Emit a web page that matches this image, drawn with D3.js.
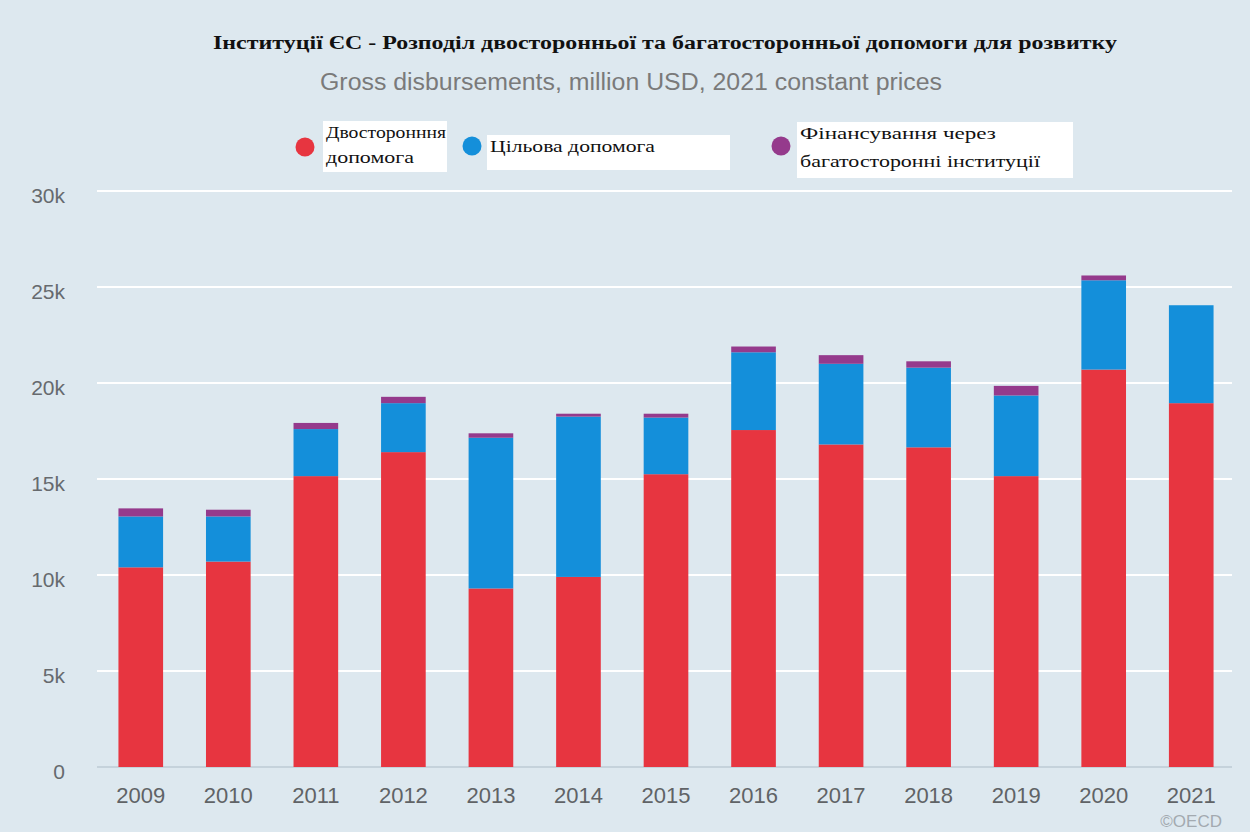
<!DOCTYPE html>
<html><head><meta charset="utf-8">
<script src="https://cdn.jsdelivr.net/npm/d3@7"></script>
<style>
html,body{margin:0;padding:0;background:#dde8ef;}
svg{display:block;}
</style></head>
<body>
<script>
const years = ["2009","2010","2011","2012","2013","2014","2015","2016","2017","2018","2019","2020","2021"];
const bilateral = [10400,10700,15150,16400,9300,9900,15250,17550,16800,16650,15150,20700,18950];
const earmarked = [2650,2350,2450,2550,7850,8350,2950,4050,4200,4150,4200,4650,5100];
const multilateral = [420,350,320,330,230,150,200,300,450,330,500,250,0];
const seriesNames = ["Двосторонння допомога","Цільова допомога","Фінансування через багатосторонні інституції"];
const seriesColors = ["#e73540","#148fda","#953a8c"];
const yTicks = [0,5000,10000,15000,20000,25000,30000];
const titleText = "Інституції ЄС - Розподіл двосторонньої та багатосторонньої допомоги для розвитку";
const subtitleText = "Gross disbursements, million USD, 2021 constant prices";

const W = 1250, H = 832;
const svg = d3.select("body").append("svg").attr("width", W).attr("height", H);
svg.append("rect").attr("width", W).attr("height", H).attr("fill", "#dde8ef");

const x = d3.scaleBand().domain(years).range([97, 1235]).paddingInner(0.49).paddingOuter(0.245);
const y = d3.scaleLinear().domain([0, 30000]).range([767, 191]);

// gridlines
svg.append("g").selectAll("line").data(yTicks).join("line")
  .attr("x1", 97).attr("x2", 1232)
  .attr("y1", d => y(d)).attr("y2", d => y(d))
  .attr("stroke", d => d === 0 ? "#c5d2db" : "#ffffff").attr("stroke-width", 2);

// y axis labels
const yAxis = d3.axisLeft(y).tickValues(yTicks).tickSize(0).tickPadding(0)
  .tickFormat(d => d === 0 ? "0" : (d/1000) + "k");
const ga = svg.append("g").attr("transform", "translate(65,0)").call(yAxis);
ga.select(".domain").remove();
ga.selectAll("text").attr("fill", "#666a6e").attr("font-family", "Liberation Sans, Arial, sans-serif")
  .attr("font-size", 21).attr("dy", "0.55em");

// x axis labels
const xAxis = d3.axisBottom(x).tickSize(0).tickPadding(0);
const gx = svg.append("g").attr("transform", "translate(0,787)").call(xAxis);
gx.select(".domain").remove();
gx.selectAll("text").attr("fill", "#606366").attr("font-family", "Liberation Sans, Arial, sans-serif")
  .attr("font-size", 22).attr("dy", "0.71em");

// stacked bars
const table = years.map((yr, i) => ({year: yr, a: bilateral[i], b: earmarked[i], c: multilateral[i]}));
const stack = d3.stack().keys(["a","b","c"])(table);
svg.append("g").selectAll("g").data(stack).join("g")
  .attr("fill", (d, i) => seriesColors[i])
  .selectAll("rect").data(d => d).join("rect")
  .attr("x", d => x(d.data.year))
  .attr("width", x.bandwidth())
  .attr("y", d => y(d[1]))
  .attr("height", d => Math.max(0, y(d[0]) - y(d[1])));

// title
svg.append("text").attr("x", 665).attr("y", 49).attr("text-anchor", "middle")
  .attr("font-family", "Liberation Serif, Times New Roman, serif").attr("font-weight", "bold")
  .attr("font-size", 18).attr("fill", "#111").attr("textLength", 904).attr("lengthAdjust", "spacingAndGlyphs")
  .text(titleText);
svg.append("text").attr("x", 631).attr("y", 90).attr("text-anchor", "middle")
  .attr("font-family", "Liberation Sans, Arial, sans-serif")
  .attr("font-size", 23).attr("fill", "#7a7a7a").attr("textLength", 622).attr("lengthAdjust", "spacingAndGlyphs")
  .text(subtitleText);

// legend
const legend = [
  {cx: 305, cy: 147, box: [323,121,124,51], lines: ["Двосторонння","допомога"], ly: [138,163], lw: [120,88]},
  {cx: 472, cy: 146, box: [487,135,243,35], lines: ["Цільова допомога"], ly: [152], lw: [165]},
  {cx: 781, cy: 146, box: [797,122,276,56], lines: ["Фінансування через","багатосторонні інституції"], ly: [139,167], lw: [196,240]}
];
const lg = svg.append("g");
legend.forEach((L, i) => {
  lg.append("rect").attr("x", L.box[0]).attr("y", L.box[1]).attr("width", L.box[2]).attr("height", L.box[3]).attr("fill", "#ffffff");
  lg.append("circle").attr("cx", L.cx).attr("cy", L.cy).attr("r", 9.5).attr("fill", seriesColors[i]);
  L.lines.forEach((t, j) => {
    lg.append("text").attr("x", L.box[0] + 3).attr("y", L.ly[j])
      .attr("font-family", "Liberation Serif, Times New Roman, serif").attr("font-size", 17).attr("fill", "#111")
      .attr("textLength", L.lw[j]).attr("lengthAdjust", "spacingAndGlyphs")
      .text(t);
  });
});

// credit
svg.append("text").attr("x", 1222).attr("y", 827).attr("text-anchor", "end")
  .attr("font-family", "Liberation Sans, Arial, sans-serif").attr("font-size", 17).attr("fill", "#a3aab0")
  .text("©OECD");
</script>
</body></html>
